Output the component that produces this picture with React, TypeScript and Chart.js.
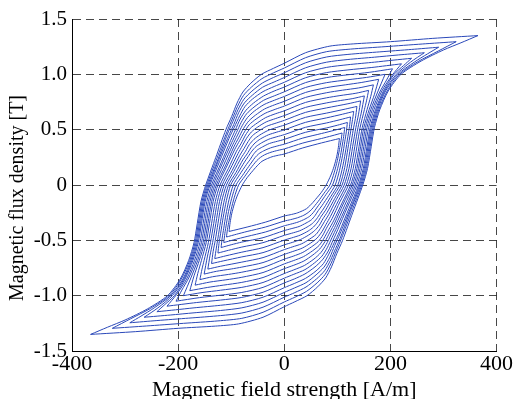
import React, { useEffect, useRef } from 'react';
import { Chart, registerables } from 'chart.js';
Chart.register(...registerables);

const xTickValues = [-400, -200, 0, 200, 400];
const xTickLabels = ['-400', '-200', '0', '200', '400'];
const yTickValues = [-1.5, -1, -0.5, 0, 0.5, 1, 1.5];
const yTickLabels = ['-1.5', '-1.0', '-0.5', '0', '0.5', '1.0', '1.5'];
const xTitle = 'Magnetic field strength [A/m]';
const yTitle = 'Magnetic flux density [T]';

// Descending (upper) branch of each loop, [H (A/m), B (T)], from +tip to -tip.
const loop01 = [[365,1.35],[280,1.325],[200,1.295],[130,1.275],[86,1.255],[40,1.195],[0,1.10],[-20,1.055],[-43,1.0],[-63,0.92],[-78,0.84],[-89,0.74],[-99,0.62],[-110,0.5],[-129,0.25],[-148,0],[-157,-0.15],[-164,-0.35],[-170,-0.52],[-180,-0.68],[-196,-0.85],[-220,-1.0],[-258,-1.12],[-300,-1.22],[-333,-1.285],[-365,-1.35]];
const loop02 = [[324,1.295],[260,1.274],[190,1.25],[125,1.228],[80,1.205],[40,1.15],[0,1.057],[-20,1.014],[-42,0.961],[-62,0.884],[-77,0.808],[-88,0.711],[-98,0.596],[-108,0.481],[-127,0.24],[-146,0],[-155,-0.15],[-162,-0.35],[-168,-0.52],[-178,-0.68],[-194,-0.85],[-217,-1.0],[-252,-1.115],[-290,-1.21],[-324,-1.295]];
const loop03 = [[291,1.245],[240,1.225],[180,1.203],[120,1.18],[80,1.157],[40,1.104],[0,1.014],[-20,0.972],[-41,0.922],[-61,0.848],[-76,0.775],[-87,0.682],[-97,0.572],[-107,0.461],[-125,0.23],[-144,0],[-153,-0.15],[-160,-0.35],[-166,-0.52],[-176,-0.68],[-191,-0.85],[-214,-1.0],[-245,-1.11],[-270,-1.185],[-291,-1.245]];
const loop04 = [[264,1.195],[215,1.175],[170,1.155],[120,1.134],[80,1.11],[40,1.059],[0,0.971],[-19,0.931],[-41,0.883],[-60,0.812],[-75,0.742],[-86,0.653],[-95,0.548],[-105,0.442],[-124,0.22],[-142,0],[-151,-0.15],[-158,-0.35],[-164,-0.52],[-174,-0.68],[-189,-0.85],[-211,-1.0],[-238,-1.11],[-264,-1.195]];
const loop05 = [[240,1.145],[205,1.128],[170,1.11],[120,1.087],[80,1.063],[40,1.014],[0,0.928],[-19,0.89],[-40,0.844],[-60,0.776],[-74,0.709],[-84,0.625],[-94,0.523],[-104,0.422],[-122,0.211],[-140,0],[-149,-0.15],[-156,-0.35],[-162,-0.52],[-172,-0.68],[-187,-0.85],[-207,-1.0],[-225,-1.08],[-240,-1.145]];
const loop06 = [[221,1.095],[165,1.062],[120,1.04],[80,1.016],[40,0.969],[0,0.885],[-19,0.849],[-39,0.804],[-58,0.74],[-72,0.676],[-83,0.596],[-92,0.499],[-101,0.403],[-119,0.201],[-137,0],[-146,-0.15],[-153,-0.35],[-159,-0.52],[-169,-0.68],[-184,-0.85],[-203,-0.99],[-221,-1.095]];
const loop07 = [[204,1.05],[160,1.018],[120,0.996],[80,0.971],[40,0.925],[0,0.842],[-18,0.807],[-39,0.765],[-57,0.704],[-71,0.643],[-81,0.567],[-90,0.475],[-99,0.383],[-117,0.191],[-134,0],[-143,-0.15],[-150,-0.35],[-156,-0.52],[-166,-0.68],[-180,-0.84],[-193,-0.95],[-204,-1.05]];
const loop08 = [[190,1.0],[155,0.972],[120,0.951],[80,0.925],[40,0.881],[0,0.80],[-18,0.767],[-38,0.727],[-56,0.669],[-69,0.611],[-79,0.538],[-88,0.451],[-97,0.364],[-114,0.182],[-131,0],[-140,-0.15],[-147,-0.35],[-153,-0.52],[-163,-0.68],[-176,-0.84],[-190,-1.0]];
const loop09 = [[178,0.955],[145,0.926],[115,0.905],[80,0.88],[40,0.836],[0,0.756],[-18,0.725],[-37,0.687],[-54,0.632],[-67,0.578],[-77,0.509],[-86,0.426],[-95,0.344],[-111,0.172],[-128,0],[-137,-0.15],[-144,-0.35],[-150,-0.52],[-160,-0.68],[-170,-0.82],[-178,-0.955]];
const loop10 = [[168,0.905],[140,0.877],[110,0.857],[80,0.834],[40,0.791],[0,0.713],[-17,0.684],[-36,0.648],[-53,0.596],[-66,0.545],[-75,0.48],[-84,0.402],[-93,0.324],[-109,0.162],[-125,0],[-134,-0.15],[-141,-0.35],[-147,-0.52],[-156,-0.68],[-163,-0.8],[-168,-0.905]];
const loop11 = [[159,0.855],[135,0.829],[105,0.808],[80,0.788],[40,0.746],[0,0.67],[-17,0.643],[-35,0.609],[-51,0.56],[-64,0.512],[-73,0.451],[-81,0.378],[-90,0.305],[-105,0.152],[-121,0],[-130,-0.15],[-137,-0.35],[-143,-0.52],[-151,-0.68],[-155,-0.76],[-159,-0.855]];
const loop12 = [[151,0.805],[128,0.78],[100,0.759],[80,0.742],[40,0.701],[0,0.627],[-16,0.601],[-34,0.57],[-50,0.524],[-62,0.479],[-71,0.422],[-79,0.354],[-87,0.285],[-102,0.142],[-117,0],[-126,-0.15],[-133,-0.35],[-139,-0.52],[-145,-0.65],[-151,-0.805]];
const loop13 = [[144,0.76],[120,0.734],[80,0.697],[40,0.656],[0,0.584],[-15,0.56],[-33,0.531],[-48,0.488],[-60,0.446],[-68,0.393],[-76,0.329],[-84,0.266],[-98,0.133],[-113,0],[-122,-0.15],[-129,-0.35],[-135,-0.52],[-140,-0.64],[-144,-0.76]];
const loop14 = [[137,0.71],[115,0.686],[80,0.65],[40,0.611],[0,0.541],[-15,0.519],[-31,0.492],[-46,0.452],[-57,0.413],[-66,0.364],[-73,0.305],[-81,0.246],[-95,0.123],[-109,0],[-118,-0.15],[-125,-0.35],[-130,-0.5],[-134,-0.6],[-137,-0.71]];
const loop15 = [[131,0.665],[110,0.64],[80,0.607],[40,0.566],[0,0.498],[-14,0.478],[-30,0.453],[-45,0.416],[-55,0.38],[-63,0.335],[-70,0.281],[-78,0.227],[-91,0.113],[-105,0],[-114,-0.16],[-120,-0.33],[-125,-0.48],[-128,-0.57],[-131,-0.665]];
const loop16 = [[125,0.615],[105,0.59],[80,0.561],[40,0.521],[0,0.455],[-14,0.436],[-29,0.414],[-43,0.38],[-53,0.348],[-61,0.306],[-68,0.257],[-75,0.207],[-88,0.103],[-101,0],[-109,-0.14],[-115,-0.29],[-120,-0.44],[-123,-0.53],[-125,-0.615]];
const loop17 = [[119,0.565],[100,0.54],[80,0.516],[40,0.476],[0,0.412],[-13,0.395],[-28,0.375],[-41,0.344],[-51,0.315],[-58,0.277],[-64,0.232],[-71,0.187],[-84,0.094],[-96,0],[-104,-0.13],[-110,-0.27],[-114,-0.39],[-117,-0.48],[-119,-0.565]];
const loop18 = [[114,0.52],[95,0.495],[70,0.465],[35,0.424],[0,0.369],[-12,0.354],[-26,0.335],[-39,0.308],[-48,0.282],[-55,0.248],[-61,0.208],[-67,0.168],[-79,0.084],[-91,0],[-99,-0.12],[-105,-0.24],[-109,-0.35],[-112,-0.44],[-114,-0.52]];
const loop19 = [[109,0.47],[90,0.445],[70,0.42],[35,0.379],[0,0.326],[-12,0.313],[-25,0.296],[-37,0.273],[-45,0.249],[-52,0.219],[-58,0.184],[-64,0.148],[-75,0.074],[-86,0],[-94,-0.11],[-100,-0.22],[-104,-0.32],[-107,-0.40],[-109,-0.47]];
const loop20 = [[104,0.42],[70,0.38],[35,0.335],[0,0.28],[-11,0.269],[-23,0.255],[-34,0.234],[-42,0.214],[-48,0.188],[-54,0.158],[-59,0.13],[-70,0.066],[-79,0],[-88,-0.09],[-94,-0.17],[-99,-0.26],[-102,-0.34],[-104,-0.42]];

const loops = [loop01, loop02, loop03, loop04, loop05, loop06, loop07, loop08, loop09, loop10,
  loop11, loop12, loop13, loop14, loop15, loop16, loop17, loop18, loop19, loop20];

const FONT = "'Liberation Serif', 'Times New Roman', serif";
const LINE = 'rgb(42,72,185)';

const yTitlePlugin = {
  id: 'yTitleText',
  afterDraw(chart: any) {
    const ctx = chart.ctx;
    ctx.save();
    ctx.translate(18, 198);
    ctx.rotate(-Math.PI / 2);
    ctx.font = `20px ${FONT}`;
    ctx.fillStyle = '#000';
    ctx.textAlign = 'center';
    ctx.textBaseline = 'middle';
    ctx.fillText(yTitle, 0, 0);
    ctx.restore();
  },
};

export default function App() {
  const ref = useRef<HTMLCanvasElement>(null);
  useEffect(() => {
    const datasets: any[] = [];
    loops.forEach((loop) => {
      // descending branch as read; ascending branch is its point reflection (symmetric loop)
      datasets.push({ data: loop.map(([h, b]) => ({ x: h, y: b })) });
      datasets.push({ data: loop.map(([h, b]) => ({ x: -h, y: -b })) });
    });
    datasets.forEach((d) => {
      d.showLine = true;
      d.borderColor = LINE;
      d.borderWidth = 1;
      d.pointRadius = 0;
      d.tension = 0.25;
      d.fill = false;
    });
    const grid = { color: 'rgba(0,0,0,0.72)', lineWidth: 1, drawTicks: false };
    const border = { display: true, color: '#000', width: 1, dash: [8, 5] };
    const chart = new Chart(ref.current as HTMLCanvasElement, {
      type: 'scatter',
      data: { datasets },
      plugins: [yTitlePlugin],
      options: {
        animation: false,
        responsive: false,
        layout: { padding: { top: 19, right: 16, left: 0, bottom: 0 } },
        plugins: { legend: { display: false }, tooltip: { enabled: false } },
        scales: {
          x: {
            type: 'linear',
            min: -400,
            max: 400,
            afterBuildTicks: (s: any) => { s.ticks = xTickValues.map((v) => ({ value: v })); },
            afterFit: (s: any) => { s.height = 48; },
            ticks: {
              callback: (v: any) => xTickLabels[xTickValues.indexOf(Number(v))],
              color: '#000',
              font: { family: FONT, size: 22 },
              padding: 0,
              maxRotation: 0,
            },
            grid,
            border,
            title: {
              display: true,
              text: xTitle,
              color: '#000',
              font: { family: FONT, size: 22, lineHeight: 0.8 },
              padding: 0,
            },
          },
          y: {
            type: 'linear',
            min: -1.5,
            max: 1.5,
            afterBuildTicks: (s: any) => { s.ticks = yTickValues.map((v) => ({ value: v })); },
            afterFit: (s: any) => { s.width = 72; },
            ticks: {
              callback: (v: any) => yTickLabels[yTickValues.indexOf(Number(v))],
              color: '#000',
              font: { family: FONT, size: 21 },
              padding: 5,
            },
            grid,
            border,
            title: { display: false },
          },
        },
      } as any,
    });
    return () => chart.destroy();
  }, []);
  return (
    <canvas
      ref={ref}
      width={513}
      height={399}
      style={{ position: 'absolute', left: 0, top: 0, display: 'block' }}
    />
  );
}
